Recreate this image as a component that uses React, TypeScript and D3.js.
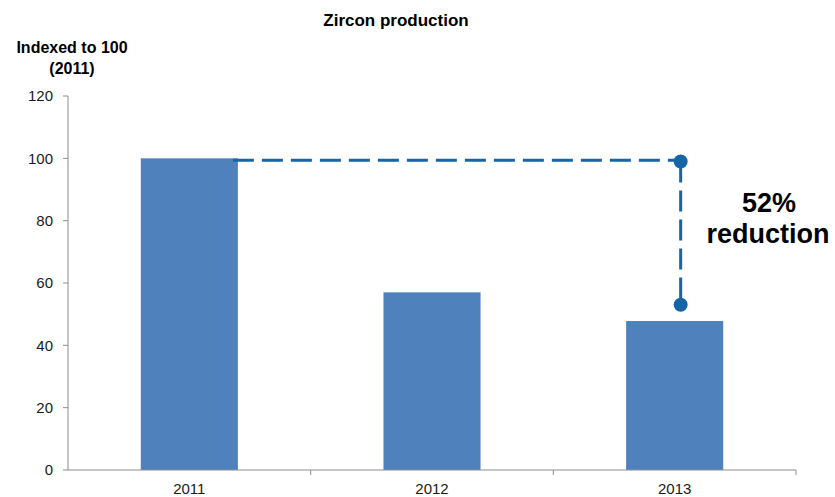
import React from "react";
import * as d3 from "d3";

const years = ["2011", "2012", "2013"];
const production = [100, 57, 47.8];
const yTicks = [0, 20, 40, 60, 80, 100, 120];
const annotationFrom = 99;
const annotationTo = 53;

const width = 835;
const height = 497;
const margin = { top: 96, right: 39, bottom: 27, left: 68 };

const App = () => {
  const x = d3
    .scaleBand()
    .domain(years)
    .range([margin.left, width - margin.right])
    .paddingInner(0.6)
    .paddingOuter(0.3);
  const y = d3
    .scaleLinear()
    .domain([0, 120])
    .range([height - margin.bottom, margin.top]);

  const step = x.step();
  const bandStart = (d: string) => (x(d) || 0) - x.paddingInner() * step / 2;
  const xEnd = margin.left + step * years.length;

  const lineColor = "#1565a7";
  const ax = (x("2013") || 0) + x.bandwidth() / 2 + 6;
  const font = "'Liberation Sans', Arial, sans-serif";

  return (
    <svg
      width={width}
      height={height}
      style={{ position: "absolute", left: 0, top: 0, fontFamily: font }}
    >
      <text x={396} y={26} textAnchor="middle" fontWeight="bold" fontSize={17}>
        Zircon production
      </text>
      <text x={72} y={53} textAnchor="middle" fontWeight="bold" fontSize={16}>
        Indexed to 100
      </text>
      <text x={72} y={74} textAnchor="middle" fontWeight="bold" fontSize={16}>
        (2011)
      </text>

      {/* bars */}
      {years.map((d, i) => (
        <rect
          key={d}
          x={x(d)}
          y={y(production[i])}
          width={x.bandwidth()}
          height={y(0) - y(production[i])}
          fill="#4f81bd"
        />
      ))}

      {/* y axis */}
      <line x1={margin.left} x2={margin.left} y1={y(120)} y2={y(0)} stroke="#8c8c8c" />
      {yTicks.map((t) => (
        <g key={t}>
          <line x1={margin.left - 5} x2={margin.left} y1={y(t)} y2={y(t)} stroke="#8c8c8c" />
          <text x={margin.left - 15} y={y(t)} dy="0.35em" textAnchor="end" fontSize={15} fill="#1a1a1a">
            {t}
          </text>
        </g>
      ))}

      {/* x axis */}
      <line x1={margin.left} x2={xEnd} y1={y(0)} y2={y(0)} stroke="#8c8c8c" />
      {years.map((d) => (
        <g key={d}>
          <line
            x1={bandStart(d) + step}
            x2={bandStart(d) + step}
            y1={y(0)}
            y2={y(0) + 5}
            stroke="#8c8c8c"
          />
          <text
            x={(x(d) || 0) + x.bandwidth() / 2}
            y={y(0) + 24}
            textAnchor="middle"
            fontSize={15}
            fill="#1a1a1a"
          >
            {d}
          </text>
        </g>
      ))}

      {/* reduction annotation */}
      <line
        x1={(x("2011") || 0) + x.bandwidth() - 5}
        x2={ax}
        y1={y(100) + 2}
        y2={y(100) + 2}
        stroke={lineColor}
        strokeWidth={3}
        strokeDasharray="21 8"
      />
      <line
        x1={ax}
        x2={ax}
        y1={y(annotationFrom)}
        y2={y(annotationTo)}
        stroke={lineColor}
        strokeWidth={3}
        strokeDasharray="21 8"
      />
      <circle cx={ax} cy={y(annotationFrom)} r={7} fill={lineColor} />
      <circle cx={ax} cy={y(annotationTo)} r={7} fill={lineColor} />
      <text x={769} y={212} textAnchor="middle" fontWeight="bold" fontSize={27}>
        52%
      </text>
      <text x={768} y={243} textAnchor="middle" fontWeight="bold" fontSize={27}>
        reduction
      </text>
    </svg>
  );
};

export default App;
